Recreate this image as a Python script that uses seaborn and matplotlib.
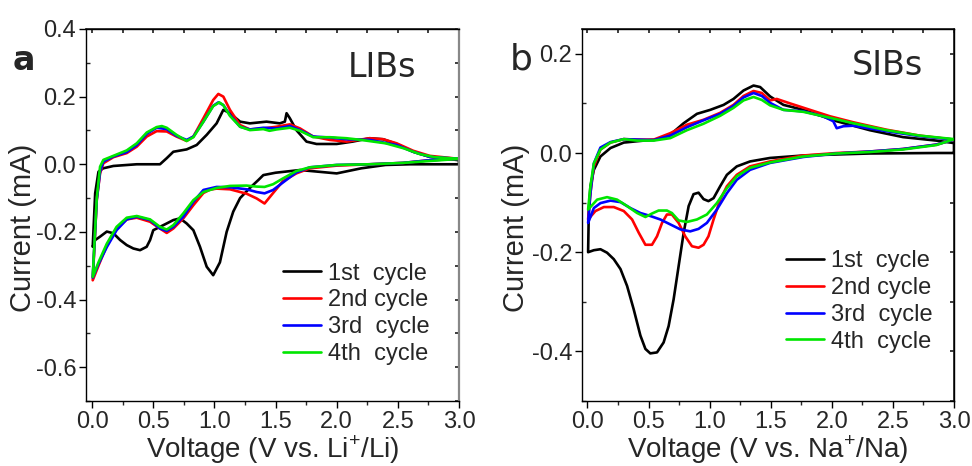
import numpy as np
import pandas as pd
import matplotlib
matplotlib.use("Agg")
import matplotlib.pyplot as plt
from matplotlib.ticker import MultipleLocator
import seaborn as sns

# ---------------- data: panel a (LIBs) ----------------
cycles = ["1st  cycle", "2nd cycle", "3rd  cycle", "4th  cycle"]
colors = ["#000000", "#ff0000", "#0000ff", "#00e600"]

a1_v = [3.0, 2.6, 2.4, 2.2, 2.0, 1.85, 1.7, 1.5, 1.4, 1.358, 1.29, 1.21, 1.154, 1.1, 1.045, 0.99, 0.937, 0.882,
        0.828, 0.773, 0.719, 0.664, 0.61, 0.555, 0.5, 0.474, 0.446, 0.392, 0.337, 0.283, 0.229, 0.174, 0.12,
        0.065, 0.025, 0.005,
        0.025, 0.052, 0.09, 0.174, 0.365, 0.555, 0.61, 0.664, 0.773, 0.855, 0.937, 1.018, 1.073, 1.127, 1.21,
        1.29, 1.426, 1.535, 1.576, 1.59, 1.617, 1.67, 1.753, 1.835, 2.0, 2.13, 2.27, 2.38, 2.49, 2.625, 2.76,
        3.0, 3.0]
a1_i = [0.0, 0.0, -0.002, -0.012, -0.027, -0.022, -0.017, -0.025, -0.032, -0.047, -0.07, -0.1, -0.14, -0.2,
        -0.29, -0.328, -0.303, -0.244, -0.195, -0.175, -0.16, -0.165, -0.175, -0.185, -0.195, -0.224, -0.244,
        -0.254, -0.249, -0.239, -0.224, -0.204, -0.199, -0.214, -0.224, -0.244,
        -0.086, -0.022, -0.012, -0.005, 0.0, 0.0, 0.018, 0.037, 0.044, 0.057, 0.087, 0.121, 0.161, 0.151,
        0.126, 0.121, 0.126, 0.121, 0.126, 0.151, 0.136, 0.101, 0.067, 0.06, 0.06, 0.067, 0.077, 0.074, 0.06,
        0.037, 0.022, 0.012, 0.0]

a2_v = [3.0, 2.76, 2.54, 2.27, 2.0, 1.78, 1.67, 1.56, 1.48, 1.41, 1.345, 1.263, 1.127, 1.018, 0.964, 0.91,
        0.828, 0.746, 0.664, 0.61, 0.555, 0.474, 0.365, 0.283, 0.2, 0.12, 0.052, 0.005,
        0.038, 0.065, 0.092, 0.174, 0.283, 0.365, 0.447, 0.528, 0.61, 0.69, 0.773, 0.828, 0.91, 0.99, 1.032,
        1.073, 1.127, 1.21, 1.29, 1.4, 1.508, 1.617, 1.7, 1.808, 1.944, 2.08, 2.27, 2.38, 2.49, 2.625, 2.76, 3.0]
a2_i = [0.016, 0.012, 0.004, 0.0, -0.004, -0.012, -0.027, -0.05, -0.085, -0.116, -0.101, -0.087, -0.074,
        -0.072, -0.075, -0.085, -0.121, -0.16, -0.19, -0.203, -0.19, -0.17, -0.158, -0.163, -0.19, -0.24,
        -0.3, -0.343,
        -0.105, -0.027, 0.003, 0.021, 0.033, 0.052, 0.082, 0.098, 0.097, 0.082, 0.069, 0.082, 0.136, 0.19,
        0.208, 0.2, 0.161, 0.116, 0.103, 0.106, 0.111, 0.118, 0.106, 0.082, 0.072, 0.067, 0.077, 0.074, 0.062,
        0.04, 0.025, 0.016]

a3_v = [3.0, 2.76, 2.54, 2.27, 2.0, 1.78, 1.67, 1.56, 1.48, 1.41, 1.345, 1.263, 1.127, 1.018, 0.91, 0.828,
        0.746, 0.664, 0.61, 0.555, 0.474, 0.365, 0.283, 0.2, 0.12, 0.052, 0.005,
        0.038, 0.065, 0.092, 0.174, 0.283, 0.365, 0.447, 0.528, 0.61, 0.69, 0.773, 0.828, 0.91, 0.99, 1.032,
        1.073, 1.127, 1.21, 1.29, 1.4, 1.508, 1.617, 1.7, 1.808, 1.944, 2.08, 2.27, 2.49, 2.625, 2.76, 3.0]
a3_i = [0.016, 0.012, 0.004, 0.0, -0.002, -0.009, -0.024, -0.054, -0.076, -0.086, -0.082, -0.074, -0.068,
        -0.067, -0.076, -0.111, -0.155, -0.185, -0.197, -0.19, -0.165, -0.155, -0.163, -0.195, -0.245, -0.295,
        -0.335,
        -0.105, -0.022, 0.008, 0.023, 0.036, 0.057, 0.09, 0.108, 0.104, 0.084, 0.072, 0.082, 0.126, 0.173,
        0.183, 0.175, 0.146, 0.111, 0.103, 0.108, 0.106, 0.113, 0.101, 0.082, 0.079, 0.074, 0.072, 0.057,
        0.037, 0.022, 0.016]

a4_v = [3.0, 2.54, 2.27, 2.0, 1.78, 1.67, 1.56, 1.48, 1.41, 1.345, 1.263, 1.127, 1.018, 0.91, 0.828, 0.746,
        0.664, 0.61, 0.555, 0.474, 0.365, 0.283, 0.2, 0.12, 0.052, 0.005,
        0.038, 0.065, 0.092, 0.174, 0.283, 0.365, 0.447, 0.528, 0.57, 0.61, 0.69, 0.773, 0.828, 0.91, 0.99,
        1.04, 1.073, 1.127, 1.21, 1.29, 1.4, 1.45, 1.508, 1.617, 1.7, 1.808, 1.944, 2.08, 2.2, 2.4, 2.55, 2.68,
        2.8, 3.0]
a4_i = [0.016, 0.004, 0.0, -0.002, -0.009, -0.02, -0.042, -0.059, -0.067, -0.066, -0.063, -0.064, -0.07,
        -0.082, -0.106, -0.145, -0.18, -0.193, -0.185, -0.163, -0.153, -0.158, -0.185, -0.235, -0.29, -0.333,
        -0.1, -0.007, 0.013, 0.025, 0.041, 0.062, 0.094, 0.11, 0.113, 0.108, 0.087, 0.069, 0.08, 0.126, 0.172,
        0.183, 0.175, 0.143, 0.111, 0.101, 0.104, 0.099, 0.103, 0.108, 0.099, 0.08, 0.08, 0.077, 0.072, 0.062,
        0.047, 0.03, 0.021, 0.016]

# ---------------- data: panel b (SIBs) ----------------
b1_v = [3.0, 2.856, 2.31, 1.767, 1.494, 1.331, 1.222, 1.141, 1.086, 1.032, 0.99, 0.95, 0.909, 0.868, 0.828,
        0.787, 0.746, 0.705, 0.664, 0.623, 0.569, 0.514, 0.474, 0.433, 0.378, 0.324, 0.27, 0.215, 0.16, 0.106,
        0.052, 0.005,
        0.011, 0.024, 0.052, 0.106, 0.188, 0.297, 0.46, 0.569, 0.678, 0.787, 0.896, 1.005, 1.114, 1.195, 1.277,
        1.359, 1.413, 1.495, 1.604, 1.767, 2.04, 2.31, 2.583, 2.856, 3.0, 3.0]
b1_i = [0.0, 0.0, -0.001, -0.005, -0.01, -0.017, -0.027, -0.044, -0.067, -0.091, -0.097, -0.093, -0.08,
        -0.083, -0.107, -0.161, -0.228, -0.295, -0.349, -0.382, -0.402, -0.404, -0.395, -0.368, -0.315,
        -0.268, -0.234, -0.214, -0.201, -0.194, -0.196, -0.2,
        -0.114, -0.067, -0.034, -0.007, 0.01, 0.021, 0.025, 0.027, 0.037, 0.06, 0.079, 0.087, 0.097, 0.109,
        0.126, 0.136, 0.133, 0.114, 0.097, 0.087, 0.064, 0.046, 0.032, 0.025, 0.02, 0.0]

b2_v = [3.0, 2.856, 2.58, 2.31, 2.04, 1.767, 1.494, 1.33, 1.222, 1.141, 1.086, 1.032, 0.99, 0.95, 0.909,
        0.855, 0.8, 0.746, 0.691, 0.65, 0.61, 0.569, 0.528, 0.474, 0.42, 0.365, 0.297, 0.215, 0.134, 0.065,
        0.005,
        0.024, 0.052, 0.106, 0.188, 0.297, 0.406, 0.542, 0.678, 0.814, 0.95, 1.086, 1.195, 1.277, 1.359, 1.427,
        1.495, 1.549, 1.658, 1.821, 1.985, 2.175, 2.447, 2.72, 3.0]
b2_i = [0.027, 0.017, 0.008, 0.003, 0.0, -0.005, -0.017, -0.027, -0.044, -0.067, -0.094, -0.134, -0.168,
        -0.185, -0.191, -0.188, -0.168, -0.141, -0.124, -0.124, -0.141, -0.168, -0.185, -0.185, -0.161,
        -0.134, -0.117, -0.109, -0.109, -0.117, -0.134,
        -0.081, -0.027, 0.007, 0.021, 0.028, 0.027, 0.027, 0.04, 0.057, 0.067, 0.081, 0.097, 0.115, 0.125,
        0.121, 0.106, 0.109, 0.1, 0.087, 0.074, 0.062, 0.047, 0.035, 0.027]

b3_v = [3.0, 2.856, 2.58, 2.31, 2.04, 1.767, 1.494, 1.33, 1.222, 1.141, 1.059, 0.977, 0.909, 0.841, 0.76,
        0.678, 0.596, 0.514, 0.433, 0.351, 0.27, 0.188, 0.106, 0.052, 0.005,
        0.024, 0.052, 0.106, 0.188, 0.297, 0.406, 0.542, 0.678, 0.814, 0.95, 1.086, 1.195, 1.277, 1.359,
        1.427, 1.495, 1.604, 1.767, 1.93, 2.012, 2.04, 2.095, 2.175, 2.447, 2.72, 3.0]
b3_i = [0.027, 0.017, 0.008, 0.003, -0.001, -0.008, -0.02, -0.034, -0.054, -0.081, -0.114, -0.141, -0.153,
        -0.158, -0.154, -0.144, -0.134, -0.127, -0.121, -0.111, -0.099, -0.096, -0.101, -0.111, -0.141,
        -0.081, -0.021, 0.011, 0.022, 0.028, 0.027, 0.026, 0.035, 0.052, 0.066, 0.079, 0.095, 0.112, 0.121,
        0.115, 0.101, 0.087, 0.084, 0.074, 0.064, 0.05, 0.054, 0.055, 0.044, 0.034, 0.027]

b4_v = [3.0, 2.856, 2.58, 2.31, 2.04, 1.767, 1.494, 1.33, 1.222, 1.141, 1.059, 0.977, 0.896, 0.814, 0.746,
        0.691, 0.65, 0.582, 0.528, 0.474, 0.406, 0.324, 0.242, 0.16, 0.079, 0.005,
        0.024, 0.052, 0.106, 0.188, 0.297, 0.406, 0.542, 0.678, 0.814, 0.95, 1.086, 1.195, 1.277, 1.359,
        1.427, 1.495, 1.604, 1.767, 1.985, 2.175, 2.447, 2.72, 3.0]
b4_i = [0.028, 0.016, 0.007, 0.002, -0.001, -0.007, -0.019, -0.03, -0.047, -0.071, -0.101, -0.124, -0.134,
        -0.139, -0.136, -0.121, -0.116, -0.116, -0.122, -0.129, -0.121, -0.107, -0.094, -0.089, -0.094,
        -0.114,
        -0.067, -0.021, 0.007, 0.021, 0.028, 0.025, 0.025, 0.03, 0.046, 0.059, 0.075, 0.091, 0.106, 0.113,
        0.107, 0.096, 0.087, 0.083, 0.071, 0.06, 0.046, 0.035, 0.028]


def make_df(series):
    frames = []
    for lab, (v, i) in zip(cycles, series):
        frames.append(pd.DataFrame({"V": v, "I": i, "cycle": lab, "k": np.arange(len(v))}))
    return pd.concat(frames, ignore_index=True)


df_a = make_df([(a1_v, a1_i), (a2_v, a2_i), (a3_v, a3_i), (a4_v, a4_i)])
df_b = make_df([(b1_v, b1_i), (b2_v, b2_i), (b3_v, b3_i), (b4_v, b4_i)])

sns.set_theme(style="white")
plt.rcParams["font.family"] = ["Liberation Sans", "DejaVu Sans"]
plt.rcParams["mathtext.fontset"] = "custom"
plt.rcParams["mathtext.rm"] = "Liberation Sans"

fig = plt.figure(figsize=(9.72, 4.66), dpi=100)
ax_a = fig.add_axes([86 / 972, 65 / 466, 373 / 972, 372 / 466])
ax_b = fig.add_axes([582 / 972, 65 / 466, 372 / 972, 372 / 466])

pal = dict(zip(cycles, colors))


def style_axis(ax, ylim, ymaj, ymin_loc, xlabel, title, title_xy, leg_xy, xlim_left, label_x):
    ax.set_xlim(xlim_left, 3.0)
    ax.set_ylim(*ylim)
    ax.xaxis.set_major_locator(MultipleLocator(0.5))
    ax.xaxis.set_minor_locator(MultipleLocator(0.25))
    ax.yaxis.set_major_locator(MultipleLocator(ymaj))
    ax.yaxis.set_minor_locator(MultipleLocator(ymin_loc))
    ax.tick_params(axis="both", which="major", direction="out", length=5, width=1,
                   labelsize=17, color="black", pad=2, left=True, bottom=True)
    ax.tick_params(axis="y", which="minor", direction="in", length=3, width=1, left=True)
    ax.tick_params(axis="x", which="minor", direction="out", length=3, width=1, bottom=True)
    for s in ax.spines.values():
        s.set_color("black")
        s.set_linewidth(1.0)
    ax.yaxis.set_major_formatter(matplotlib.ticker.FuncFormatter(
        lambda v, p: ("%.1f" % v).replace("-0.0", "0.0")))
    sec_y = ax.secondary_yaxis("right")
    sec_y.yaxis.set_major_locator(MultipleLocator(ymin_loc))
    sec_y.tick_params(direction="in", length=3, labelright=False)
    sec_x = ax.secondary_xaxis("top")
    sec_x.xaxis.set_major_locator(MultipleLocator(0.25))
    sec_x.tick_params(direction="in", length=3, labeltop=False)
    ax.set_xlabel(xlabel, fontsize=20)
    ax.xaxis.set_label_coords(0.5, -0.088)
    ax.set_ylabel("Current (mA)", fontsize=21)
    ax.yaxis.set_label_coords(label_x, 0.465)
    ax.text(title_xy[0], title_xy[1], title, transform=ax.transAxes, fontsize=24,
            ha="center", va="baseline", family="DejaVu Sans")
    h, l = ax.get_legend_handles_labels()
    if ax.get_legend() is not None:
        ax.get_legend().remove()
    ax.legend(h, l, loc="upper left", bbox_to_anchor=leg_xy, frameon=False, fontsize=17,
              handlelength=1.6, handletextpad=0.3, labelspacing=0.2, borderpad=0, borderaxespad=0)


for ax, df in [(ax_a, df_a), (ax_b, df_b)]:
    sns.lineplot(data=df, x="V", y="I", hue="cycle", hue_order=cycles, palette=pal, sort=False,
                 estimator=None, units="cycle", linewidth=1.9, ax=ax)
    for ln in ax.get_lines():
        ln.set_solid_joinstyle("round")

style_axis(ax_a, (-0.7, 0.4), 0.2, 0.1, "Voltage (V vs. Li$^{+}$/Li)", "LIBs", (0.794, 0.871),
           (0.528, 0.372), -0.05, -0.132)
style_axis(ax_b, (-0.5, 0.25), 0.2, 0.1, "Voltage (V vs. Na$^{+}$/Na)", "SIBs", (0.82, 0.876),
           (0.548, 0.405), -0.045, -0.14)
ax_a.spines["right"].set_color("#888888")
ax_a.spines["right"].set_linewidth(1.6)

fig.text(13 / 972, 1 - 70 / 466, "a", fontsize=24, fontweight="bold", va="baseline", ha="left",
         family="DejaVu Sans")
fig.text(510 / 972, 1 - 70 / 466, "b", fontsize=26, va="baseline", ha="left",
         family="DejaVu Sans")

fig.savefig("out.png", dpi=100)
